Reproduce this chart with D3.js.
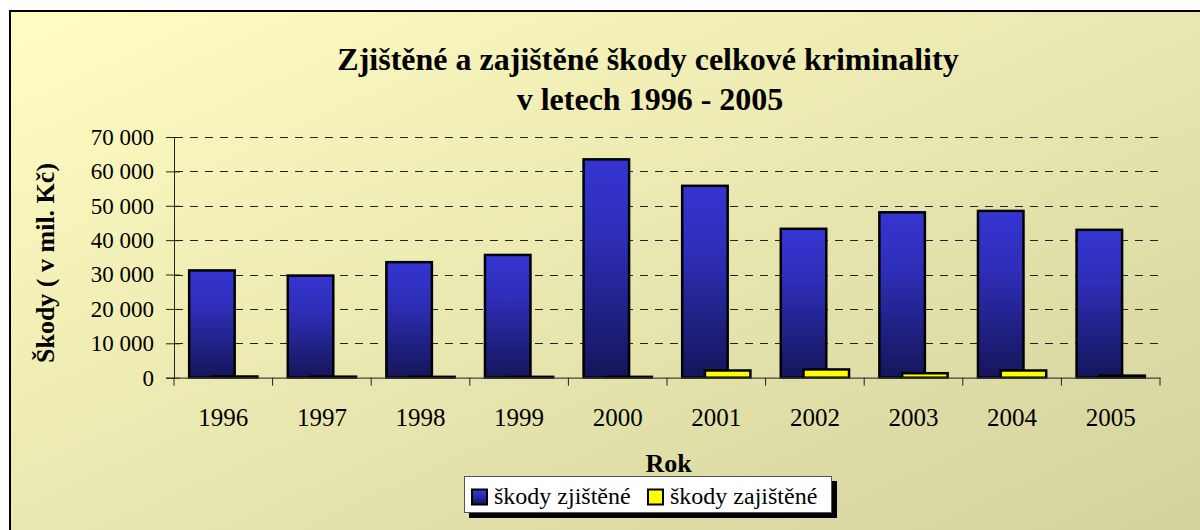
<!DOCTYPE html>
<html>
<head>
<meta charset="utf-8">
<script src="https://cdn.jsdelivr.net/npm/d3@7"></script>
<style>
  html, body { margin: 0; padding: 0; background: #fff; }
  svg text { font-family: "Liberation Serif", "Times New Roman", Times, "DejaVu Serif", serif; }
</style>
</head>
<body>
<svg id="chart" width="1200" height="530"></svg>
<script>
  var years = ['1996', '1997', '1998', '1999', '2000', '2001', '2002', '2003', '2004', '2005']
  var zjistene = [31200, 29700, 33600, 35700, 63500, 55800, 43300, 48100, 48500, 43000]
  var zajistene = [350, 300, 250, 250, 250, 2100, 2400, 1300, 2100, 600]
  var yTicks = [0, 10000, 20000, 30000, 40000, 50000, 60000, 70000]
  var seriesNames = ['škody zjištěné', 'škody zajištěné']

  var svg = d3.select('#chart')
  var defs = svg.append('defs')

  var bg = defs.append('linearGradient').attr('id', 'bg')
      .attr('x1', '0%').attr('y1', '0%').attr('x2', '100%').attr('y2', '100%')
  bg.append('stop').attr('offset', '0%').attr('stop-color', '#fffdc2')
  bg.append('stop').attr('offset', '100%').attr('stop-color', '#d2d19c')

  var blue = defs.append('linearGradient').attr('id', 'blue')
      .attr('x1', 0).attr('y1', 0).attr('x2', 0).attr('y2', 1)
  blue.append('stop').attr('offset', '0%').attr('stop-color', '#3535d2')
  blue.append('stop').attr('offset', '35%').attr('stop-color', '#2e2eb8')
  blue.append('stop').attr('offset', '100%').attr('stop-color', '#15155a')

  // frame (right and bottom edges run off the picture)
  svg.append('rect')
      .attr('x', 10).attr('y', 11)
      .attr('width', 1200).attr('height', 540)
      .attr('fill', 'url(#bg)')
      .attr('stroke', '#000')
      .attr('stroke-width', 2)

  var x = d3.scaleBand().domain(years).range([174, 1160])
  var y = d3.scaleLinear().domain([0, 70000]).range([377.7, 137])

  var band = x.bandwidth()
  var bw = band / 2.167
  var pad = (band - bw * 1.5) / 2

  // gridlines
  svg.append('g').selectAll('line')
      .data(yTicks.slice(1))
      .enter().append('line')
      .attr('x1', 175).attr('x2', 1163)
      .attr('y1', function (d) { return Math.round(y(d)) + 0.5 })
      .attr('y2', function (d) { return Math.round(y(d)) + 0.5 })
      .attr('stroke', '#222')
      .attr('stroke-width', 1)
      .attr('stroke-dasharray', '8,7')

  // bars
  svg.append('g').selectAll('rect')
      .data(zjistene)
      .enter().append('rect')
      .attr('x', function (d, i) { return x(years[i]) + pad })
      .attr('y', function (d) { return y(d) })
      .attr('width', bw)
      .attr('height', function (d) { return y(0) - y(d) })
      .attr('fill', 'url(#blue)')
      .attr('stroke', '#000')
      .attr('stroke-width', 2.5)

  svg.append('g').selectAll('rect')
      .data(zajistene)
      .enter().append('rect')
      .attr('x', function (d, i) { return x(years[i]) + pad + bw / 2 })
      .attr('y', function (d) { return y(d) })
      .attr('width', bw)
      .attr('height', function (d) { return y(0) - y(d) })
      .attr('fill', '#ffff00')
      .attr('stroke', '#000')
      .attr('stroke-width', 2.5)

  // y axis
  var yAxis = svg.append('g')
      .attr('transform', 'translate(174,0)')
      .call(d3.axisLeft(y).tickValues(yTicks).tickSize(8).tickPadding(12)
        .tickFormat(function (d) { return d3.format(',')(d).replace(/,/g, ' ') }))
  yAxis.attr('font-family', null)
  yAxis.select('.domain').attr('stroke', '#222')
  yAxis.selectAll('.tick line').attr('x2', 6).attr('x1', -8).attr('stroke', '#222')
  yAxis.selectAll('text')
      .attr('font-size', '23px')
      .attr('fill', '#000')
      .attr('x', -20)

  // x axis
  var xAxis = svg.append('g')
      .attr('transform', 'translate(0,' + y(0) + ')')
      .call(d3.axisBottom(x).tickSize(0).tickPadding(22).tickSizeOuter(0))
  xAxis.attr('font-family', null)
  xAxis.select('.domain').attr('stroke', '#444').attr('stroke-width', 1.2)
  xAxis.selectAll('text')
      .attr('font-size', '25px')
      .attr('fill', '#000')
      .attr('dy', null)
      .attr('y', 48)
  xAxis.selectAll('.cat-tick')
      .data(years.concat(['end']))
      .enter().append('line')
      .attr('class', 'cat-tick')
      .attr('x1', function (d, i) { return 174 + i * band })
      .attr('x2', function (d, i) { return 174 + i * band })
      .attr('y1', 0).attr('y2', 8)
      .attr('stroke', '#222')

  // title
  var title = svg.append('text')
      .attr('text-anchor', 'middle')
      .attr('font-size', '32px')
      .attr('font-weight', 'bold')
  title.append('tspan').attr('x', 648).attr('y', 69.5).text('Zjištěné a zajištěné škody celkové kriminality')
  title.append('tspan').attr('x', 650).attr('y', 110).text('v letech 1996 - 2005')

  // axis titles
  svg.append('text')
      .attr('transform', 'translate(54,263) rotate(-90)')
      .attr('text-anchor', 'middle')
      .attr('font-size', '26px')
      .attr('font-weight', 'bold')
      .text('Škody ( v mil. Kč)')

  svg.append('text')
      .attr('x', 668.7).attr('y', 472)
      .attr('text-anchor', 'middle')
      .attr('font-size', '26px')
      .attr('font-weight', 'bold')
      .text('Rok')

  // legend
  var legend = svg.append('g')
  legend.append('rect')
      .attr('x', 469).attr('y', 481).attr('width', 368).attr('height', 37)
      .attr('fill', '#000')
  legend.append('rect')
      .attr('x', 464.5).attr('y', 476.5).attr('width', 367).attr('height', 36)
      .attr('fill', '#fff').attr('stroke', '#555').attr('stroke-width', 1)

  var legendX = [472, 648]
  var item = legend.selectAll('g.item')
      .data(seriesNames)
      .enter().append('g')
      .attr('class', 'item')
      .attr('transform', function (d, i) { return 'translate(' + legendX[i] + ',0)' })
  item.append('rect')
      .attr('x', 0).attr('y', 489.5).attr('width', 15).attr('height', 15)
      .attr('fill', function (d, i) { return i === 0 ? 'url(#blue)' : '#ffff00' })
      .attr('stroke', '#000').attr('stroke-width', 2)
  item.append('text')
      .attr('x', 22).attr('y', 503.5)
      .attr('font-size', '24px')
      .text(function (d) { return d })
</script>
</body>
</html>
